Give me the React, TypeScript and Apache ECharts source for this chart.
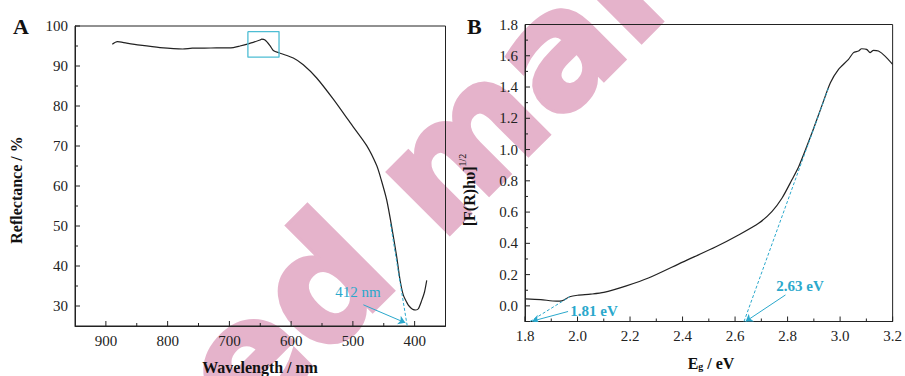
import React, { useEffect, useRef } from "react";
import * as echarts from "echarts";

// ---- Panel A: reflectance spectrum ----
const wavelengthNm = [889.6, 881.5, 866.3, 844.7, 812.4, 775.6, 760, 730, 693.6, 682.8, 661.3, 650.5, 647.7, 642.3, 634.2, 628.9, 618, 596.5, 580.3, 558.6, 531.7, 504.7, 477.6, 461.4, 454, 445.2, 437.1, 429, 423.6, 418.3, 413, 410.2, 406, 402.1, 398, 394, 388.5, 384, 380.4];
const reflectance = [95.45, 96.1, 95.7, 95.2, 94.6, 94.25, 94.45, 94.5, 94.6, 95.0, 95.9, 96.5, 96.7, 96.5, 95.1, 93.9, 93.2, 92.0, 90.3, 87.0, 81.7, 75.9, 70.1, 65.1, 61.5, 56.5, 49.8, 42.3, 36.5, 32.7, 31.0, 30.2, 29.5, 29.1, 29.0, 29.3, 31.4, 33.5, 36.4];
const tangentA = [[439, 50.5], [412, 25]];
const boxA = [[670, 98.6], [619.6, 98.6], [619.6, 92.2], [670, 92.2], [670, 98.6]];
const arrowA = [[483, 30.3], [415, 25.8]];
const xTicksA = [400, 500, 600, 700, 800, 900];
const xMinorA = [450, 550, 650, 750, 850];
const yTicksA = [30, 40, 50, 60, 70, 80, 90, 100];
const yMinorA = [35, 45, 55, 65, 75, 85, 95];

// ---- Panel B: Tauc plot ----
const energyEv = [1.8, 1.86, 1.92, 1.94, 1.97, 2.0, 2.05, 2.1, 2.186, 2.27, 2.4, 2.527, 2.615, 2.691, 2.741, 2.779, 2.817, 2.843, 2.893, 2.93, 2.963, 2.994, 3.032, 3.051, 3.07, 3.082, 3.101, 3.114, 3.127, 3.146, 3.171, 3.2];
const taucValue = [0.045, 0.04, 0.03, 0.032, 0.058, 0.068, 0.075, 0.086, 0.128, 0.178, 0.28, 0.378, 0.455, 0.53, 0.605, 0.69, 0.808, 0.893, 1.107, 1.278, 1.427, 1.513, 1.577, 1.62, 1.63, 1.645, 1.641, 1.62, 1.635, 1.63, 1.598, 1.545];
const tangentB1 = [[1.819, -0.1], [1.971, 0.059]];
const tangentB2 = [[2.634, -0.1], [2.956, 1.395]];
const arrowB1 = [[1.964, -0.036], [1.827, -0.098]];
const arrowB2 = [[2.792, 0.07], [2.64, -0.1]];
const xTicksB = [1.8, 2.0, 2.2, 2.4, 2.6, 2.8, 3.0, 3.2];
const xMinorB = [1.9, 2.1, 2.3, 2.5, 2.7, 2.9, 3.1];
const yTicksB = [0, 0.2, 0.4, 0.6, 0.8, 1.0, 1.2, 1.4, 1.6, 1.8];
const yMinorB = [0.1, 0.3, 0.5, 0.7, 0.9, 1.1, 1.3, 1.5, 1.7];

const INK = "#222";
const CYAN = "#2aa8cc";
const PINK = "#e5b3cb";
const SERIF = "'Liberation Serif', 'DejaVu Serif', serif";
const MAJOR = 5;
const MINOR = 3;

const EXT_A = { xMin: 350, xMax: 950, yMin: 25, yMax: 100, yAxisAt: 950 };
const EXT_B = { xMin: 1.8, xMax: 3.2, yMin: -0.1, yMax: 1.8, yAxisAt: 1.8 };

function valueAxis(extra: any, labels: number[], fmt: (v: number) => string) {
  return {
    type: "value",
    splitLine: { show: false },
    axisLine: { show: true, onZero: false, lineStyle: { color: INK, width: 1 } },
    axisTick: { show: false },
    axisLabel: { show: true, customValues: labels, formatter: fmt, color: INK, fontSize: 15, fontFamily: SERIF, margin: 7 },
    ...extra,
  };
}

// Inward tick marks drawn through the axes' own scales.
function tickSeries(xi: number, yi: number, ext: any, dir: "x" | "y", major: number[], minor: number[]) {
  const rows = major.map((v) => [v, MAJOR]).concat(minor.map((v) => [v, MINOR]));
  return {
    type: "custom",
    xAxisIndex: xi,
    yAxisIndex: yi,
    silent: true,
    z: 5,
    data: rows,
    renderItem: (params: any, api: any) => {
      const v = api.value(0);
      const len = api.value(1);
      if (dir === "x") {
        const p = api.coord([v, ext.yMin]);
        return { type: "line", shape: { x1: p[0], y1: p[1], x2: p[0], y2: p[1] - len }, style: { stroke: INK, lineWidth: 1 } };
      }
      const p = api.coord([ext.yAxisAt, v]);
      return { type: "line", shape: { x1: p[0], y1: p[1], x2: p[0] + len, y2: p[1] }, style: { stroke: INK, lineWidth: 1 } };
    },
  };
}

export default function App() {
  const ref = useRef<HTMLDivElement>(null);
  useEffect(() => {
    if (!ref.current) return;
    const chart = echarts.init(ref.current, undefined, { renderer: "svg" });
    const curveA = wavelengthNm.map((x, i) => [x, reflectance[i]]);
    const curveB = energyEv.map((x, i) => [x, taucValue[i]]);
    const f1 = (v: number) => v.toFixed(1);
    const f0 = (v: number) => String(Math.round(v));
    const option: any = {
      animation: false,
      grid: [
        { left: 75, top: 26, width: 370.5, height: 300, show: true, borderColor: INK, borderWidth: 1 },
        { left: 525, top: 24.5, width: 369.5, height: 297, show: true, borderColor: INK, borderWidth: 1 },
      ],
      xAxis: [
        valueAxis({ gridIndex: 0, min: EXT_A.xMin, max: EXT_A.xMax, inverse: true, position: "bottom" }, xTicksA, f0),
        valueAxis({ gridIndex: 1, min: EXT_B.xMin, max: EXT_B.xMax, position: "bottom" }, xTicksB, f1),
      ],
      yAxis: [
        valueAxis({ gridIndex: 0, min: EXT_A.yMin, max: EXT_A.yMax, position: "left" }, yTicksA, f0),
        valueAxis({ gridIndex: 1, min: EXT_B.yMin, max: EXT_B.yMax, position: "left" }, yTicksB, f1),
      ],
      series: [
        { type: "line", xAxisIndex: 0, yAxisIndex: 0, data: curveA, showSymbol: false, smooth: 0.25, lineStyle: { color: INK, width: 1.2 }, z: 3 },
        { type: "line", xAxisIndex: 0, yAxisIndex: 0, data: tangentA, showSymbol: false, lineStyle: { color: CYAN, width: 1, type: [3, 2] }, z: 4 },
        { type: "line", xAxisIndex: 0, yAxisIndex: 0, data: boxA, showSymbol: false, lineStyle: { color: "#4dbdd3", width: 1.3 }, z: 4 },
        { type: "lines", coordinateSystem: "cartesian2d", xAxisIndex: 0, yAxisIndex: 0, symbol: ["none", "arrow"], symbolSize: 7, lineStyle: { color: CYAN, width: 1, opacity: 1 }, data: [{ coords: arrowA }], z: 4 },
        { type: "line", xAxisIndex: 1, yAxisIndex: 1, data: curveB, showSymbol: false, smooth: 0.25, lineStyle: { color: INK, width: 1.2 }, z: 3 },
        { type: "line", xAxisIndex: 1, yAxisIndex: 1, data: tangentB1, showSymbol: false, lineStyle: { color: CYAN, width: 1, type: [3, 2] }, z: 4 },
        { type: "line", xAxisIndex: 1, yAxisIndex: 1, data: tangentB2, showSymbol: false, lineStyle: { color: CYAN, width: 1, type: [3, 2] }, z: 4 },
        { type: "lines", coordinateSystem: "cartesian2d", xAxisIndex: 1, yAxisIndex: 1, symbol: ["none", "arrow"], symbolSize: 7, lineStyle: { color: CYAN, width: 1, opacity: 1 }, data: [{ coords: arrowB1 }, { coords: arrowB2 }], z: 4 },
        tickSeries(0, 0, EXT_A, "x", xTicksA, xMinorA),
        tickSeries(0, 0, EXT_A, "y", yTicksA, yMinorA),
        tickSeries(1, 1, EXT_B, "x", xTicksB, xMinorB),
        tickSeries(1, 1, EXT_B, "y", yTicksB, yMinorB),
      ],
      graphic: {
        elements: [
          {
            type: "text", x: 207, y: 398, rotation: Math.PI / 4, z: -10, silent: true,
            style: { text: "ed mal", fill: PINK, stroke: PINK, lineWidth: 5, font: "bold 158px 'DejaVu Sans', sans-serif", align: "left", verticalAlign: "middle" },
          },
          { type: "text", x: 13, y: 15, style: { text: "A", fill: "#111", font: `bold 22px ${SERIF}`, align: "left", verticalAlign: "top" } },
          { type: "text", x: 467, y: 15, style: { text: "B", fill: "#111", font: `bold 22px ${SERIF}`, align: "left", verticalAlign: "top" } },
          { type: "text", x: 16.5, y: 190, rotation: Math.PI / 2, style: { text: "Reflectance / %", fill: "#111", font: `bold 16px ${SERIF}`, align: "center", verticalAlign: "middle" } },
          { type: "text", x: 260, y: 359, style: { text: "Wavelength / nm", fill: "#111", font: `bold 16px ${SERIF}`, align: "center", verticalAlign: "top" } },
          {
            type: "text", x: 711, y: 355,
            style: {
              text: "{a|E}{s|g}{a| / eV}", align: "center", verticalAlign: "top",
              rich: {
                a: { fill: "#111", fontFamily: SERIF, fontWeight: "bold", fontSize: 16, lineHeight: 16, verticalAlign: "top" },
                s: { fill: "#111", fontFamily: SERIF, fontWeight: "bold", fontSize: 10, lineHeight: 10, verticalAlign: "bottom" },
              },
            },
          },
          {
            type: "text", x: 467, y: 190, rotation: Math.PI / 2,
            style: {
              text: "{a|[F(R)hυ]}{s|1/2}", align: "center", verticalAlign: "middle",
              rich: {
                a: { fill: "#111", fontFamily: SERIF, fontWeight: "bold", fontSize: 16, lineHeight: 20, verticalAlign: "bottom" },
                s: { fill: "#111", fontFamily: SERIF, fontSize: 10, lineHeight: 12, verticalAlign: "top" },
              },
            },
          },
          { type: "text", x: 358, y: 292, style: { text: "412 nm", fill: CYAN, font: `15px ${SERIF}`, align: "center", verticalAlign: "middle" } },
          { type: "text", x: 594, y: 311, style: { text: "1.81 eV", fill: CYAN, font: `bold 15px ${SERIF}`, align: "center", verticalAlign: "middle" } },
          { type: "text", x: 800, y: 286, style: { text: "2.63 eV", fill: CYAN, font: `bold 15px ${SERIF}`, align: "center", verticalAlign: "middle" } },
        ],
      },
    };
    chart.setOption(option);
    return () => chart.dispose();
  }, []);
  return <div ref={ref} style={{ position: "fixed", left: 0, top: 0, width: 905, height: 376, background: "#fff" }} />;
}
